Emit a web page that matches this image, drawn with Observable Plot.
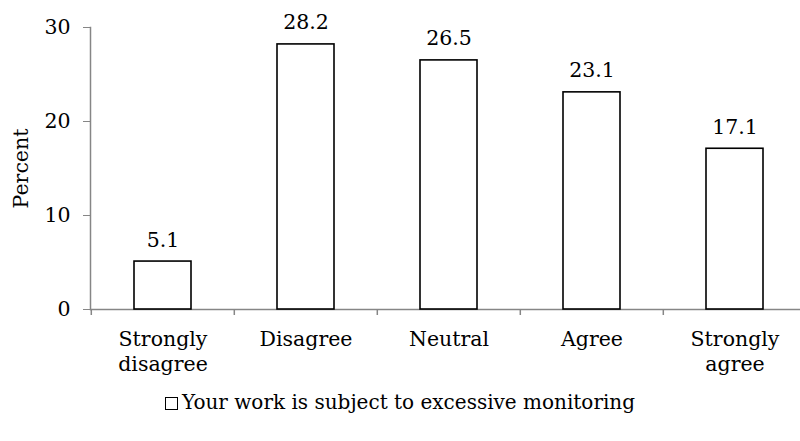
<!DOCTYPE html>
<html>
<head>
<meta charset="utf-8">
<script src="https://cdn.jsdelivr.net/npm/d3@7"></script>
<script src="https://cdn.jsdelivr.net/npm/@observablehq/plot@0.6"></script>
<style>
  html, body { margin: 0; padding: 0; background: #fff; }
  #chart svg { display: block; }
  #legend {
    font-family: "DejaVu Serif", serif;
    font-size: 20px;
    color: #000;
    display: flex;
    justify-content: center;
    align-items: center;
    margin-top: 10px;
    line-height: 24px;
  }
  #legend .sw {
    width: 11px; height: 11px; border: 1.5px solid #000; background: #fff;
    margin-right: 4px; margin-top: 2px; display: inline-block;
  }
</style>
</head>
<body>
<div id="chart"></div>
<div id="legend"><span class="sw"></span><span id="legend-text"></span></div>
<script>
const categories = ["Strongly disagree", "Disagree", "Neutral", "Agree", "Strongly agree"];
const categoryLabels = ["Strongly\ndisagree", "Disagree", "Neutral", "Agree", "Strongly\nagree"];
const values = [5.1, 28.2, 26.5, 23.1, 17.1];
const yTicks = [0, 10, 20, 30];
const seriesName = "Your work is subject to excessive monitoring";
const yLabel = "Percent";

const data = categories.map((c, i) => ({cat: c, value: values[i]}));
const labelOf = new Map(categories.map((c, i) => [c, categoryLabels[i]]));

const font = "DejaVu Serif";
const axisGray = "#868686";
const fs = 20.5;

const chart = Plot.plot({
  width: 800,
  height: 380,
  marginLeft: 90,
  marginRight: -7,
  marginTop: 27,
  marginBottom: 71,
  style: {fontFamily: font, fontSize: fs + "px", color: "#000", background: "#fff"},
  x: {domain: categories, paddingInner: 0.6, paddingOuter: 0.3},
  y: {domain: [0, 30]},
  marks: [
    Plot.axisY({
      ticks: yTicks,
      tickSize: 7,
      tickPadding: 13,
      stroke: axisGray,
      fill: "#000",
      fontSize: fs,
      label: yLabel,
      labelAnchor: "center",
      labelArrow: "none",
      labelOffset: 77
    }),
    Plot.axisX({
      tickSize: 0,
      tickPadding: 19,
      tickFormat: d => labelOf.get(d),
      lineHeight: 1.2,
      fontSize: fs,
      fill: "#000",
      label: null
    }),
    Plot.frame({anchor: "left", stroke: axisGray, strokeWidth: 1.5}),
    Plot.ruleY([0], {stroke: axisGray, strokeWidth: 1.5}),
    Plot.ruleX(categories, {x: d => d, y1: 0, y2: 0, insetBottom: -6, dx: -71.7, stroke: axisGray, strokeWidth: 1.5}),
    Plot.barY(data, {x: "cat", y: "value", fill: "white", stroke: "black", strokeWidth: 1.6}),
    Plot.text(data, {x: "cat", y: "value", text: d => d.value.toFixed(1), lineAnchor: "bottom", dy: -15, fontSize: fs, fill: "#000"})
  ]
});
document.getElementById("chart").appendChild(chart);
document.getElementById("legend-text").textContent = seriesName;
</script>
</body>
</html>
